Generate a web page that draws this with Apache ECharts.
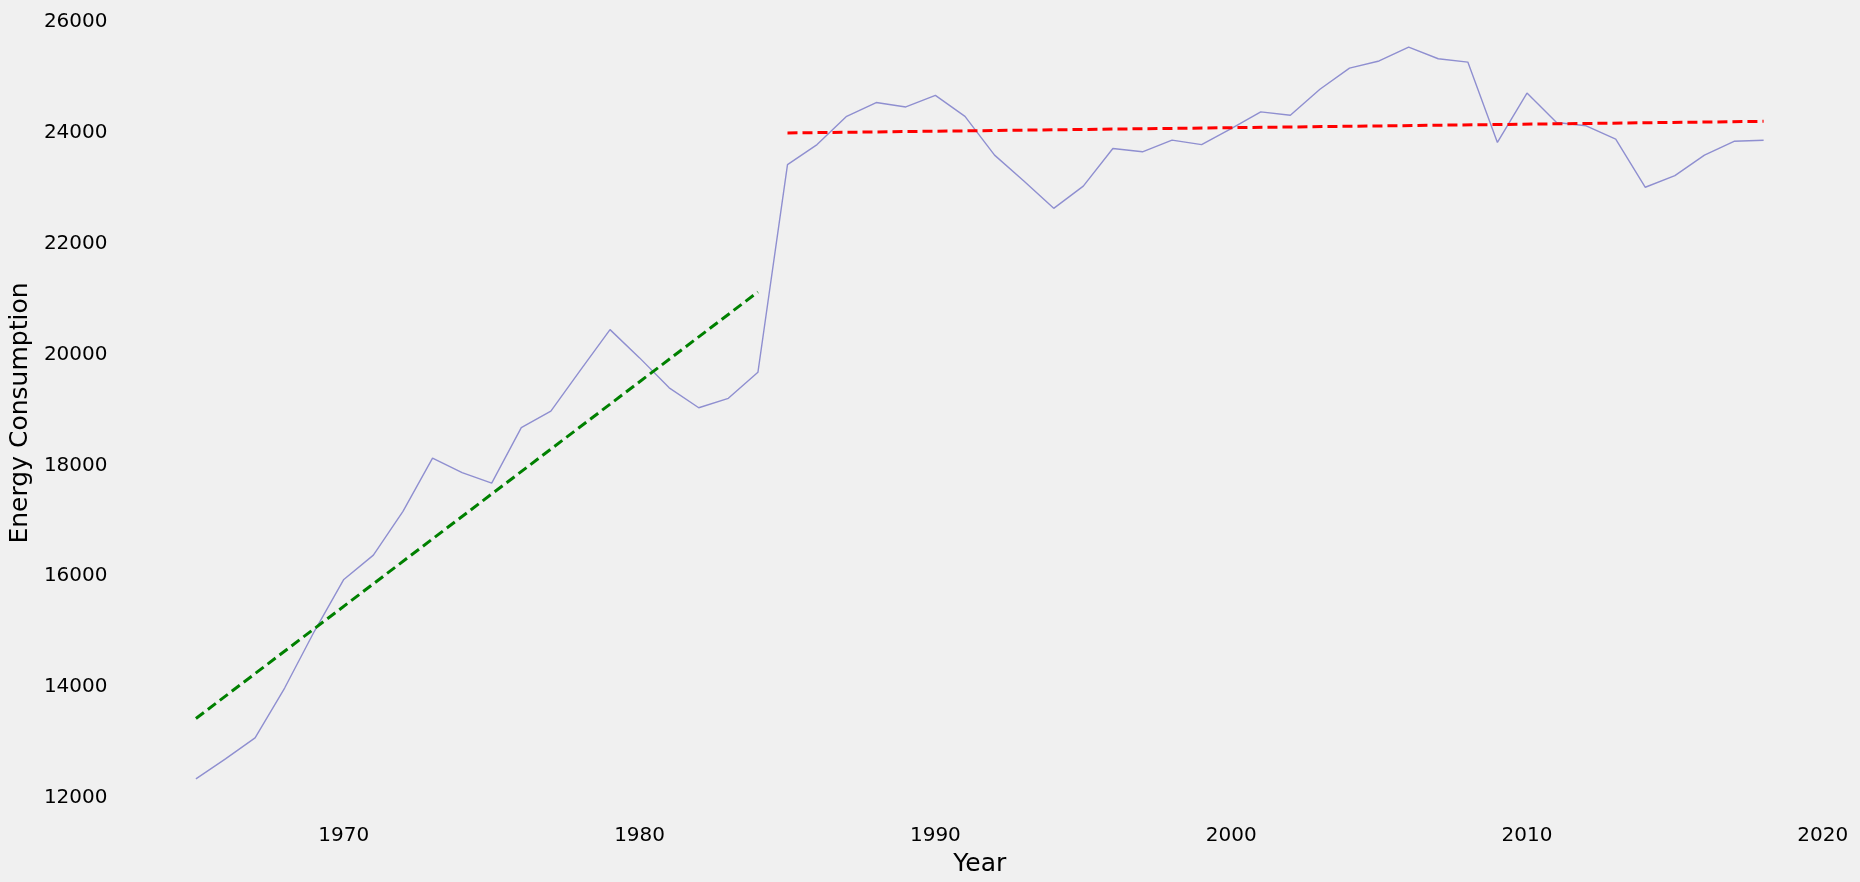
<!DOCTYPE html>
<html>
<head>
<meta charset="utf-8">
<script src="https://cdn.jsdelivr.net/npm/echarts@6/dist/echarts.min.js"></script>
<style>html,body{margin:0;background:#f0f0f0}#chart{width:1860px;height:882px}</style>
</head>
<body>
<div id="chart"></div>
<script>
const years = [];
for (let y = 1965; y <= 2018; y++) years.push(y);
const consumption = [
  12340, 12700, 13080, 13980, 15000, 15940, 16380, 17170, 18130, 17870,
  17680, 18680, 18980, 19720, 20450, 19940, 19400, 19040, 19210, 19680,
  23430, 23790, 24300, 24550, 24470, 24680, 24300, 23600, 23130, 22640,
  23040, 23720, 23660, 23870, 23790, 24080, 24380, 24320, 24790, 25170,
  25300, 25550, 25340, 25280, 23830, 24720, 24190, 24130, 23890, 23020,
  23230, 23600, 23850, 23870
];
const trendUntil = [[1965, 13430], [1984, 21130]];
const trendPast = [[1985, 24000], [2018, 24210]];

const chart = echarts.init(document.getElementById('chart'));
chart.setOption({
  backgroundColor: '#f0f0f0',
  animation: false,
  textStyle: { fontFamily: 'DejaVu Sans' },
  grid: { left: 106, right: 18, top: 10, bottom: 61 },
  legend: {
    right: 26, top: 20, orient: 'vertical',
    backgroundColor: 'rgba(240,240,240,0.8)', borderColor: '#cccccc', borderWidth: 1,
    borderRadius: 4, padding: [8, 12],
    itemWidth: 46, itemGap: 10,
    icon: 'path://M0,0L1,0',
    textStyle: { fontSize: 22, color: '#000' },
    data: ['until 1985', 'past 1985']
  },
  xAxis: {
    type: 'value', min: 1962.35, max: 2020.65, interval: 10,
    name: 'Year', nameLocation: 'middle', nameGap: 36,
    nameTextStyle: { fontSize: 25, color: '#000' },
    axisLine: { show: false }, axisTick: { show: false }, splitLine: { show: false },
    axisLabel: {
      fontSize: 20, color: '#000', margin: 10,
      customValues: [1970, 1980, 1990, 2000, 2010, 2020],
      formatter: v => String(v)
    }
  },
  yAxis: {
    type: 'value', min: 11670, max: 26220,
    name: 'Energy Consumption', nameLocation: 'middle', nameGap: 80,
    nameTextStyle: { fontSize: 25, color: '#000' },
    axisLine: { show: false }, axisTick: { show: false }, splitLine: { show: false },
    axisLabel: {
      fontSize: 20, color: '#000', margin: 10,
      customValues: [12000, 14000, 16000, 18000, 20000, 22000, 24000, 26000],
      formatter: v => String(v)
    }
  },
  series: [
    {
      type: 'line', data: years.map((y, i) => [y, consumption[i]]),
      showSymbol: false, lineStyle: { color: '#8f8fd0', width: 1.4 }, color: '#8f8fd0'
    },
    {
      name: 'until 1985', type: 'line', data: trendUntil, showSymbol: false, symbol: 'none',
      color: '#008000', lineStyle: { color: '#008000', width: 3, type: [10, 5] }
    },
    {
      name: 'past 1985', type: 'line', data: trendPast, showSymbol: false, symbol: 'none',
      color: '#ff0000', lineStyle: { color: '#ff0000', width: 3, type: [10, 5] }
    }
  ]
});
</script>
</body>
</html>
